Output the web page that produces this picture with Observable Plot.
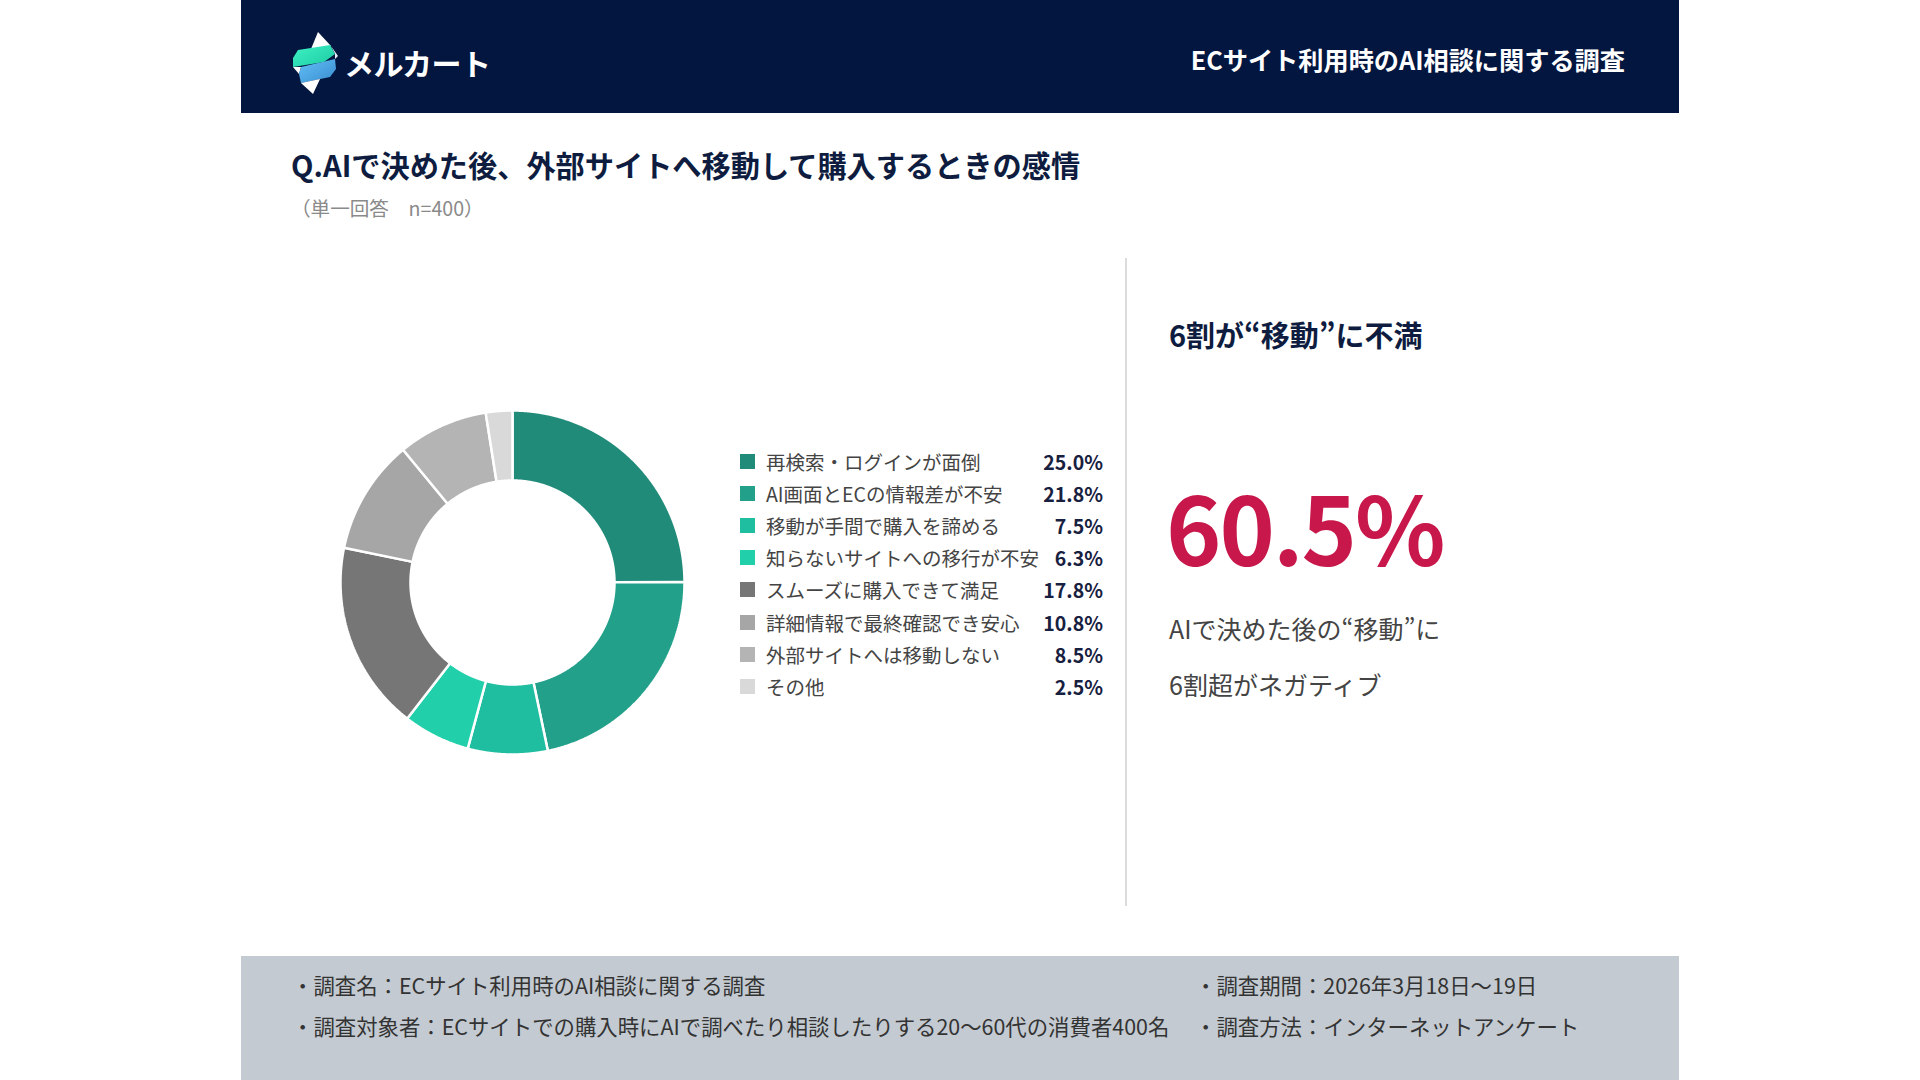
<!DOCTYPE html>
<html lang="ja">
<head>
<meta charset="utf-8">
<script src="https://cdn.jsdelivr.net/npm/d3@7"></script>
<script src="https://cdn.jsdelivr.net/npm/@observablehq/plot@0.6"></script>
<style>
html,body{margin:0;padding:0;background:#fff;}
body{width:1920px;height:1080px;position:relative;overflow:hidden;font-family:"Noto Sans CJK JP","Noto Sans",sans-serif;}
.abs{position:absolute;white-space:nowrap;}
#header{position:absolute;left:241px;top:0;width:1438px;height:113px;background:#03163f;}
#brand{left:103px;top:42px;font-size:30px;line-height:40px;font-weight:700;color:#fff;letter-spacing:-0.5px;}
#survey{right:54px;top:41px;font-size:25.2px;line-height:36px;font-weight:700;color:#fff;}
#question{left:291px;top:145px;font-size:29.2px;line-height:38px;font-weight:700;color:#0e1c40;}
#note{left:291px;top:194px;font-size:19.6px;line-height:28px;color:#8a8a8a;}
#divider{position:absolute;left:1125px;top:258px;width:1.5px;height:648px;background:#dcdcdc;}
#donut{position:absolute;left:331px;top:401px;}
#legend{position:absolute;left:740px;top:445px;width:363px;}
.row{display:flex;align-items:center;height:32.2px;font-size:19.5px;}
.sw{width:15px;height:15px;margin-right:11px;flex:none;}
.lab{flex:1;color:#444;}
.val{font-weight:700;color:#17203f;text-align:right;}
#insight{left:1169px;top:314px;font-size:29px;line-height:40px;font-weight:700;color:#0e1c40;}
#big{left:1166px;top:478px;font-size:94px;line-height:94px;font-weight:700;color:#c8174a;letter-spacing:-2px;}
#lines{left:1169px;top:600px;font-size:25px;line-height:56px;color:#444;}
#footer{position:absolute;left:241px;top:956px;width:1438px;height:124px;background:#c3cad1;}
.ft{font-size:21.4px;line-height:30px;color:#333;}
</style>
</head>
<body>
<div id="header">
  <svg class="abs" style="left:50px;top:32px" width="47" height="62" viewBox="0 0 47 62">
    <defs>
      <linearGradient id="gg" x1="0" y1="0" x2="1" y2="1"><stop offset="0" stop-color="#3ff2c4"/><stop offset="1" stop-color="#1cc9a3"/></linearGradient>
      <linearGradient id="bg" x1="0" y1="0" x2="1" y2="1"><stop offset="0" stop-color="#62c0f7"/><stop offset="1" stop-color="#3a8ccf"/></linearGradient>
    </defs>
    <polygon points="27,0 20,17 40,14" fill="#ffffff"/>
    <polygon points="40,14 47,24 44,27 44,22" fill="#e8eef5"/>
    <polygon points="7,18 39,13 44,22 33,30 2,35 2,26" fill="url(#gg)"/>
    <polygon points="2,35 10,35 8,42" fill="#ffffff"/>
    <polygon points="10,35 44,27 45,37 39,45 10,51 8,42" fill="url(#bg)"/>
    <polygon points="10,51 29,47 22,62" fill="#ffffff"/>
  </svg>
  <div id="brand" class="abs"></div>
  <div id="survey" class="abs"></div>
</div>
<div id="question" class="abs"></div>
<div id="note" class="abs"></div>
<div id="divider"></div>
<div id="donut"></div>
<div id="legend"></div>
<div id="insight" class="abs"></div>
<div id="big" class="abs"></div>
<div id="lines" class="abs"></div>
<div id="footer">
  <div id="fl1" class="abs ft" style="left:51px;top:14px"></div>
  <div id="fl2" class="abs ft" style="left:51px;top:55px"></div>
  <div id="fr1" class="abs ft" style="left:954px;top:14px"></div>
  <div id="fr2" class="abs ft" style="left:954px;top:55px"></div>
</div>
<script>
// ---- data ----
const brandName = "メルカート";
const surveyTitle = "ECサイト利用時のAI相談に関する調査";
const question = "Q.AIで決めた後、外部サイトへ移動して購入するときの感情";
const note = "（単一回答　n=400）";
const labels = [
  "再検索・ログインが面倒",
  "AI画面とECの情報差が不安",
  "移動が手間で購入を諦める",
  "知らないサイトへの移行が不安",
  "スムーズに購入できて満足",
  "詳細情報で最終確認でき安心",
  "外部サイトへは移動しない",
  "その他"
];
const values = [25.0, 21.8, 7.5, 6.3, 17.8, 10.8, 8.5, 2.5];
const colors = ["#218b7a", "#22a089", "#20bea0", "#21cfab", "#767676", "#a6a6a6", "#b4b4b4", "#d9d9d9"];
const insightTitle = "6割が“移動”に不満";
const headline = "60.5%";
const insightLines = ["AIで決めた後の“移動”に", "6割超がネガティブ"];
const footerLeft = ["・調査名：ECサイト利用時のAI相談に関する調査", "・調査対象者：ECサイトでの購入時にAIで調べたり相談したりする20〜60代の消費者400名"];
const footerRight = ["・調査期間：2026年3月18日〜19日", "・調査方法：インターネットアンケート"];

// ---- text ----
document.getElementById("brand").textContent = brandName;
document.getElementById("survey").textContent = surveyTitle;
document.getElementById("question").textContent = question;
document.getElementById("note").textContent = note;
document.getElementById("insight").textContent = insightTitle;
document.getElementById("big").textContent = headline;
document.getElementById("lines").innerHTML = insightLines.map(s => `<div>${s}</div>`).join("");
document.getElementById("fl1").textContent = footerLeft[0];
document.getElementById("fl2").textContent = footerLeft[1];
document.getElementById("fr1").textContent = footerRight[0];
document.getElementById("fr2").textContent = footerRight[1];

// ---- donut ----
const rows = labels.map((label, i) => ({label, value: values[i]}));
const outerR = 1, innerR = 102 / 172;
const arcs = d3.pie().sort(null).value(d => d.value)(rows);
const pts = [];
for (const p of arcs) {
  const a0 = p.startAngle, a1 = p.endAngle;
  const n = Math.max(2, Math.ceil((a1 - a0) / 0.004));
  for (let i = 0; i <= n; i++) {
    const a = a0 + (a1 - a0) * i / n;
    pts.push({label: p.data.label, x: outerR * Math.sin(a), y: outerR * Math.cos(a)});
  }
  for (let i = n; i >= 0; i--) {
    const a = a0 + (a1 - a0) * i / n;
    pts.push({label: p.data.label, x: innerR * Math.sin(a), y: innerR * Math.cos(a)});
  }
}
const ext = 181 / 172;
const donut = Plot.plot({
  width: 362, height: 362, margin: 0,
  style: {background: "transparent"},
  x: {domain: [-ext, ext], axis: null},
  y: {domain: [-ext, ext], axis: null},
  color: {domain: labels, range: colors},
  marks: [
    Plot.line(pts, {x: "x", y: "y", z: "label", fill: "label", stroke: "white", strokeWidth: 2.5, curve: "linear-closed", strokeLinejoin: "miter"})
  ]
});
document.getElementById("donut").appendChild(donut);

// ---- legend ----
const legend = document.getElementById("legend");
rows.forEach((d, i) => {
  const row = document.createElement("div");
  row.className = "row";
  row.innerHTML = `<span class="sw" style="background:${colors[i]}"></span><span class="lab">${d.label}</span><span class="val">${d.value.toFixed(1)}%</span>`;
  legend.appendChild(row);
});
</script>
</body>
</html>
